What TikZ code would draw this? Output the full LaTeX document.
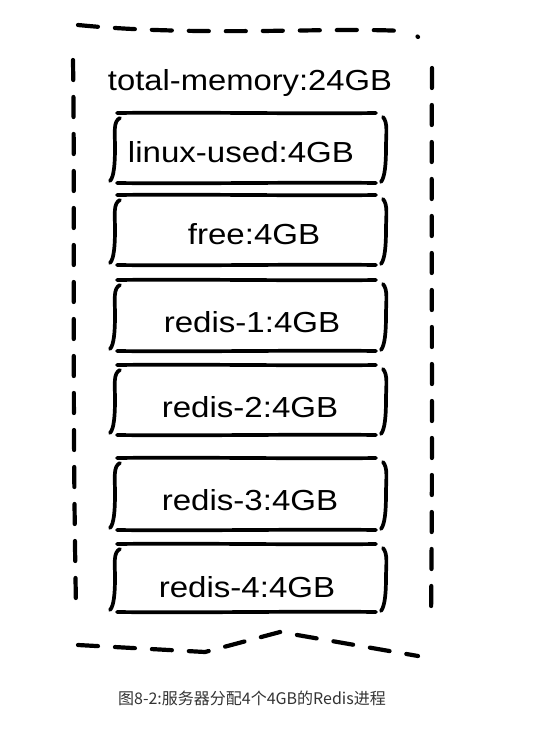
\documentclass[tikz,border=0pt]{standalone}
\usepackage{fontspec}
\setmainfont{Liberation Sans}
\newfontfamily\cjk{Noto Sans CJK SC}
\definecolor{capgray}{HTML}{333333}
\newcommand{\skbox}[5]{% name, top, bottom, text x, baseline, text
  \draw[sk] (117,#2) .. controls (200,{#2-1}) and (300,{#2+1}) .. (376,#2);
  \draw[sk] (117,#3) .. controls (200,{#3+1}) and (300,{#3-1}) .. (376,#3);
  \draw[sk] (120,{#2+5}) .. controls (113,{#2+8}) and (115,{#2+20}) .. (115,{(#2+#3)/2})
            .. controls (115,{#3-20}) and (114,{#3-6}) .. (110,{#3-2});
  \draw[sk] (383,{#2+4}) .. controls (388,{#2+10}) and (386,{#2+20}) .. (386,{(#2+#3)/2})
            .. controls (386,{#3-20}) and (385,{#3-6}) .. (381,{#3-1});
  \node[lbl] (#1) at (#4,#5)}
\begin{document}
\begin{tikzpicture}[x=1pt,y=-1pt,
  sk/.style={line width=3.7pt, line cap=round, line join=round},
  outer/.style={line width=4.2pt, line cap=round, dash pattern=on 20pt off 17pt},
  lbl/.style={anchor=base, inner sep=0pt, font=\fontsize{29}{31}\selectfont},
]
\useasboundingbox (0,0) rectangle (536,736);
% outer dashed frame
\draw[outer] (78,25) .. controls (200,37) and (330,27) .. (402,31);
\draw[sk, line width=4.2pt] (417.5,36.5) -- (418,37);
\draw[outer] (73,60) .. controls (75,200) and (72,400) .. (76,606);
\draw[outer] (432,68) .. controls (431,250) and (433,450) .. (431,617);
\draw[outer] (78,645) -- (205,652) -- (280,632) -- (418,656);
% title
\node[lbl] (total) at (250,90) {\scalebox{1.13}[1]{total-memory:24GB}};
% boxes
\skbox{linux}{113}{183}{241}{162}{\scalebox{1.14}[1]{linux-used:4GB}};
\skbox{free}{195}{265}{254}{244}{\scalebox{1.14}[1]{free:4GB}};
\skbox{r1}{280}{351}{252}{332}{\scalebox{1.14}[1]{redis-1:4GB}};
\skbox{r2}{365}{435}{250}{417}{\scalebox{1.14}[1]{redis-2:4GB}};
\skbox{r3}{458}{530}{250}{510}{\scalebox{1.14}[1]{redis-3:4GB}};
\skbox{r4}{544}{612}{247}{597}{\scalebox{1.14}[1]{redis-4:4GB}};
% caption
\node[anchor=base, inner sep=0pt, text=capgray, font=\cjk\fontsize{16}{18}\selectfont] (cap) at (252,704) {图8-2:服务器分配4个4GB的Redis进程};
\end{tikzpicture}
\end{document}
